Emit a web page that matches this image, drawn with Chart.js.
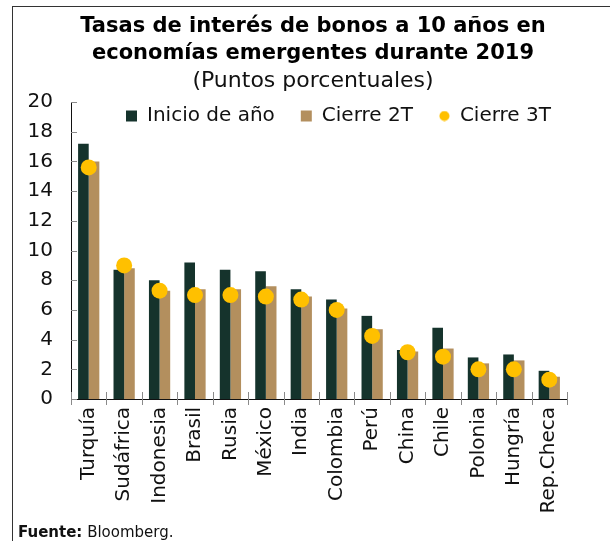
<!DOCTYPE html>
<html>
<head>
<meta charset="utf-8">
<script src="https://cdn.jsdelivr.net/npm/chart.js@4/dist/chart.umd.min.js"></script>
<style>
  body { margin: 0; background: #fff; }
  #marco { position: absolute; left: 12px; top: 6px; right: 0; bottom: 0;
           border-top: 1.5px solid #333; border-left: 1.5px solid #333; }
  #wrap { position: absolute; left: 0; top: 0; width: 610px; height: 541px; }
  #fuente { position: absolute; left: 18px; top: 523px; font-family: "DejaVu Sans", sans-serif;
            font-size: 15px; color: #111; }
</style>
</head>
<body>
<div id="marco"></div>
<div id="wrap"><canvas id="grafico"></canvas></div>
<div id="fuente"><b>Fuente:</b> Bloomberg.</div>
<script>
const categorias = ["Turquía", "Sudáfrica", "Indonesia", "Brasil", "Rusia", "México", "India",
    "Colombia", "Perú", "China", "Chile", "Polonia", "Hungría", "Rep.Checa"];
const inicioAnio = [17.2, 8.7, 8.0, 9.2, 8.7, 8.6, 7.4, 6.7, 5.6, 3.3, 4.8, 2.8, 3.0, 1.9];
const cierre2T = [16.0, 8.8, 7.3, 7.4, 7.4, 7.6, 6.9, 6.1, 4.7, 3.2, 3.4, 2.4, 2.6, 1.5];
const cierre3T = [15.6, 9.0, 7.3, 7.0, 7.0, 6.9, 6.7, 6.0, 4.25, 3.15, 2.85, 2.0, 2.0, 1.3];
const ticksY = [0, 2, 4, 6, 8, 10, 12, 14, 16, 18, 20];

const fuente = "'DejaVu Sans', sans-serif";

// punto pequeño para la leyenda
const puntoLeyenda = document.createElement("canvas");
puntoLeyenda.width = 11;
puntoLeyenda.height = 11;
const pctx = puntoLeyenda.getContext("2d");
pctx.fillStyle = "#FFC000";
pctx.beginPath();
pctx.arc(5.5, 5.5, 5, 0, Math.PI * 2);
pctx.fill();

// leyenda en una fila, dentro del área del gráfico
const leyendaDentro = {
    id: "leyendaDentro",
    afterInit(chart) {
        chart.legend.isHorizontal = () => true;
    },
    afterLayout(chart) {
        const lg = chart.legend;
        const dx = 100 - lg.left;
        const dy = 80 - lg.top;
        lg.left += dx; lg.right += dx;
        lg.top += dy; lg.bottom += dy;
    }
};

const marcasEjes = {
    id: "marcasEjes",
    afterDraw(chart) {
        const { ctx, chartArea, scales } = chart;
        const x = scales.x;
        const y = scales.y;
        ctx.save();
        ctx.strokeStyle = "#8a8a8a";
        ctx.lineWidth = 1;
        ctx.beginPath();
        ticksY.forEach((v) => {
            const py = Math.round(y.getPixelForValue(v)) + 0.5;
            ctx.moveTo(chartArea.left, py);
            ctx.lineTo(chartArea.left + 6, py);
        });
        for (let i = 0; i <= categorias.length; i++) {
            const px = Math.round(x.getPixelForValue(i - 0.5)) + 0.5;
            ctx.moveTo(px, chartArea.bottom - 7);
            ctx.lineTo(px, chartArea.bottom + 6);
        }
        ctx.stroke();
        ctx.restore();
    }
};

new Chart(document.getElementById("grafico"), {
    type: "bar",
    data: {
        labels: categorias,
        datasets: [
            {
                label: "Inicio de año",
                data: inicioAnio,
                backgroundColor: "#15332C",
                pointStyle: "rect",
                order: 2,
                categoryPercentage: 0.6,
                barPercentage: 1
            },
            {
                label: "Cierre 2T",
                data: cierre2T,
                backgroundColor: "#B38F5E",
                pointStyle: "rect",
                order: 2,
                categoryPercentage: 0.6,
                barPercentage: 1
            },
            {
                type: "line",
                label: "Cierre 3T",
                data: cierre3T,
                showLine: false,
                pointRadius: 8,
                pointHoverRadius: 8,
                pointBackgroundColor: "#FFC000",
                pointBorderWidth: 0,
                backgroundColor: "#FFC000",
                borderColor: "#FFC000",
                pointStyle: "circle",
                order: 1
            }
        ]
    },
    options: {
        responsive: true,
        maintainAspectRatio: false,
        animation: false,
        layout: { padding: { left: 16, right: 0, top: 7, bottom: 20 } },
        plugins: {
            title: {
                display: true,
                text: ["Tasas de interés de bonos a 10 años en", "economías emergentes durante 2019"],
                color: "#000",
                font: { family: fuente, size: 21, weight: "bold", lineHeight: 1.3 },
                padding: { top: 6, bottom: 0 }
            },
            subtitle: {
                display: true,
                text: "(Puntos porcentuales)",
                color: "#111",
                font: { family: fuente, size: 22, weight: "normal", lineHeight: 1.25 },
                padding: { top: 0, bottom: 7 }
            },
            legend: {
                position: "chartArea",
                align: "start",
                labels: {
                    color: "#111",
                    font: { family: fuente, size: 20 },
                    usePointStyle: true,
                    boxWidth: 11,
                    boxHeight: 11,
                    padding: 26,
                    sort: (a, b) => a.datasetIndex - b.datasetIndex,
                    generateLabels(chart) {
                        const items = Chart.defaults.plugins.legend.labels.generateLabels(chart);
                        items.forEach((it) => {
                            if (it.datasetIndex === 2) it.pointStyle = puntoLeyenda;
                        });
                        return items;
                    }
                }
            },
            tooltip: { enabled: false }
        },
        scales: {
            x: {
                grid: { display: false, drawTicks: false },
                border: { display: true, color: "#111", width: 1 },
                ticks: {
                    color: "#111",
                    font: { family: fuente, size: 20 },
                    maxRotation: 90,
                    minRotation: 90,
                    padding: 8
                },
                afterFit(s) { s.height = 122; }
            },
            y: {
                min: 0,
                max: 20,
                grid: { display: false, drawTicks: false },
                border: { display: true, color: "#111", width: 1 },
                ticks: {
                    stepSize: 2,
                    color: "#111",
                    font: { family: fuente, size: 20 },
                    padding: 18
                },
                afterFit(s) { s.width = 55; }
            },
            y2: {
                position: "right",
                display: true,
                grid: { display: false, drawTicks: false },
                border: { display: false },
                ticks: { display: false },
                afterFit(s) { s.width = 43; }
            }
        }
    },
    plugins: [leyendaDentro, marcasEjes]
});
</script>
</body>
</html>
